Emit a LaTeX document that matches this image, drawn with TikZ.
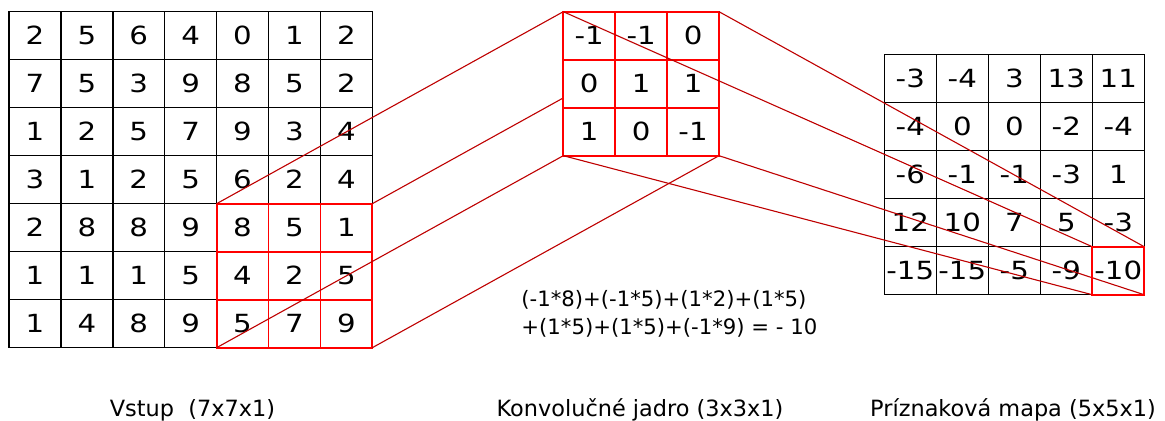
\documentclass[tikz,border=0pt]{standalone}
\usepackage{fontspec}
\setmainfont{DejaVu Sans}
\newfontfamily\cellfont[FakeStretch=1.17]{DejaVu Sans}
\usepackage{tikz}
\usetikzlibrary{positioning}
\definecolor{gridred}{RGB}{255,0,0}
\definecolor{linkred}{RGB}{190,0,0}
\tikzset{
  cell/.style    = {rectangle, draw, line width=0.75pt, inner sep=0pt, outer sep=0pt,
                    minimum width=25.95pt, minimum height=24pt,
                    font=\cellfont\fontsize{12.5}{14}\selectfont},
  kcell/.style   = {cell, draw=gridred, line width=0.9pt, fill=white},
  hot/.style     = {draw=gridred, line width=0.9pt},
  link/.style    = {draw=linkred, line width=0.55pt},
  caption/.style = {anchor=base, inner sep=0pt, font=\fontsize{11.2}{13}\selectfont},
}

\begin{document}
\begin{tikzpicture}[x=0.5pt, y=-0.5pt]
  \useasboundingbox (0,0) rectangle (1165,421);

  % input 7x7
  \foreach \row [count=\r] in {{2,5,6,4,0,1,2},{7,5,3,9,8,5,2},{1,2,5,7,9,3,4},
      {3,1,2,5,6,2,4},{2,8,8,9,8,5,1},{1,1,1,5,4,2,5},{1,4,8,9,5,7,9}}
    \foreach \v [count=\c] in \row
      \node[cell] (in-\r-\c) at ({9+51.9*(\c-0.5)}, {11.7+48*(\r-0.5)}) {\v};
  \foreach \r in {5,6,7}
    \foreach \c in {5,6,7}
      \draw[hot] (in-\r-\c.north west) rectangle (in-\r-\c.south east);

  % feature map 5x5
  \foreach \row [count=\r] in {{-3,-4,3,13,11},{-4,0,0,-2,-4},{-6,-1,-1,-3,1},
      {12,10,7,5,-3},{-15,-15,-5,-9,-10}}
    \foreach \v [count=\c] in \row
      \node[cell] (map-\r-\c) at ({884.3+52*(\c-0.5)}, {54.3+48.1*(\r-0.5)}) {\v};

  % kernel 3x3, in front of the back links
  \coordinate (k0) at (563.3,11.7);
  \draw[link] (in-5-5.north west) -- (k0);
  \draw[link] (in-5-7.north east) -- ([xshift=25.95pt*3]k0);
  \draw[link] (in-7-5.south west) -- ([yshift=-72pt]k0);
  \draw[link] (in-7-7.south east) -- ([xshift=25.95pt*3, yshift=-72pt]k0);
  \foreach \row [count=\r] in {{-1,-1,0},{0,1,1},{1,0,-1}}
    \foreach \v [count=\c] in \row
      \node[kcell] (ker-\r-\c) at ({563.3+51.9*(\c-0.5)}, {11.7+48*(\r-0.5)}) {\v};

  \draw[link] (ker-1-1.north west) -- (map-5-5.north west);
  \draw[link] (ker-1-3.north east) -- (map-5-5.north east);
  \draw[link] (ker-3-1.south west) -- (map-5-5.south west);
  \draw[link] (ker-3-3.south east) -- (map-5-5.south east);
  \draw[hot] (map-5-5.north west) rectangle (map-5-5.south east);

  \node[anchor=north west, inner sep=0pt, align=left,
        font=\fontsize{10.6}{14}\selectfont] (sum) at (521,290)
    {(-1*8)+(-1*5)+(1*2)+(1*5)\\+(1*5)+(1*5)+(-1*9) = - 10};

  \node[caption] (capin)  at (192.5,416.7) {Vstup\ \ (7x7x1)};
  \node[caption] (capker) at (640,416.7) {Konvolučné jadro (3x3x1)};
  \node[caption] (capmap) at (1013,416.7) {Príznaková mapa (5x5x1)};
\end{tikzpicture}
\end{document}
